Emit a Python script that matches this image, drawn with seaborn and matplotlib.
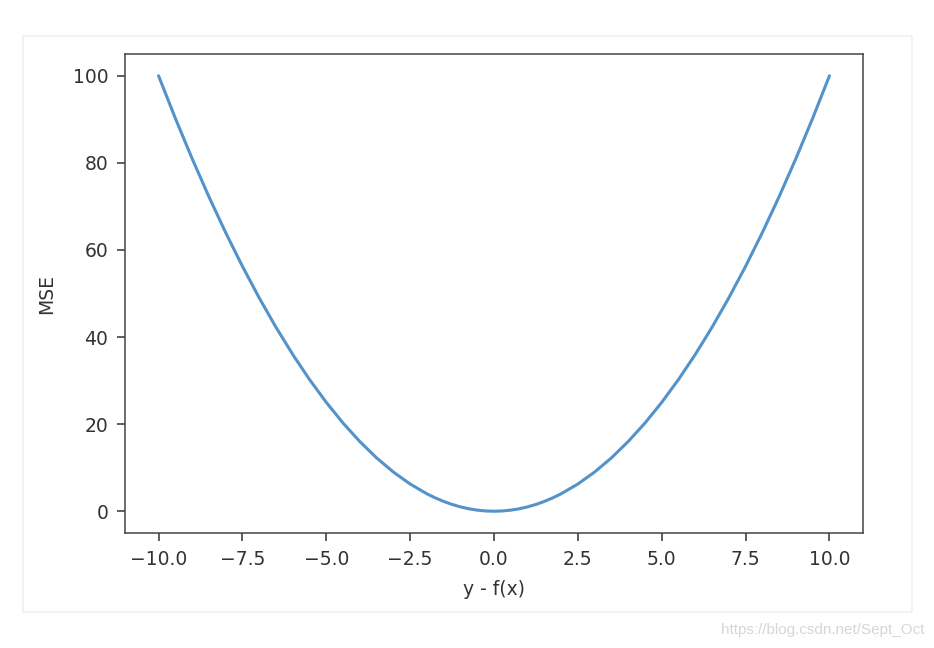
import matplotlib
matplotlib.use("Agg")
import matplotlib.pyplot as plt
import seaborn as sns
import pandas as pd
from matplotlib.patches import Rectangle

# Values (error vs squared error)
errors = [-10.0, -9.5, -9.0, -8.5, -8.0, -7.5, -7.0, -6.5, -6.0, -5.5, -5.0,
          -4.5, -4.0, -3.5, -3.0, -2.5, -2.0, -1.75, -1.5, -1.25, -1.0,
          -0.75, -0.5, -0.25, 0.0, 0.25, 0.5, 0.75, 1.0, 1.25, 1.5, 1.75, 2.0,
          2.5, 3.0, 3.5, 4.0, 4.5, 5.0,
          5.5, 6.0, 6.5, 7.0, 7.5, 8.0, 8.5, 9.0, 9.5, 10.0]
mse = [100.0, 90.25, 81.0, 72.25, 64.0, 56.25, 49.0, 42.25, 36.0, 30.25, 25.0,
       20.25, 16.0, 12.25, 9.0, 6.25, 4.0, 3.06, 2.25, 1.56, 1.0,
       0.56, 0.25, 0.06, 0.0, 0.06, 0.25, 0.56, 1.0, 1.56, 2.25, 3.06, 4.0,
       6.25, 9.0, 12.25, 16.0, 20.25, 25.0,
       30.25, 36.0, 42.25, 49.0, 56.25, 64.0, 72.25, 81.0, 90.25, 100.0]
x_ticks = [-10.0, -7.5, -5.0, -2.5, 0.0, 2.5, 5.0, 7.5, 10.0]
y_ticks = [0, 20, 40, 60, 80, 100]

sns.set_style("ticks")
plt.rcParams['font.family'] = ['DejaVu Sans']

fig = plt.figure(figsize=(9.34, 6.48), dpi=100)
fig.patch.set_facecolor("white")

# faint outer frame
fig.patches.append(Rectangle((23/934, 1-612/648), (912-23)/934, (612-36)/648,
                             transform=fig.transFigure, fill=False,
                             edgecolor="#f0f0f0", linewidth=1.2))

ax = fig.add_axes([125/934, 1-533/648, (863-125)/934, (533-54)/648])
df = pd.DataFrame({"err": errors, "mse": mse})
sns.lineplot(data=df, x="err", y="mse", ax=ax, color="#5393c9", linewidth=2.2)
for ln in ax.lines:
    ln.set_solid_joinstyle("round")
    ln.set_solid_capstyle("round")

ax.set_xlim(-11, 11)
ax.set_ylim(-5, 105)
ax.set_xticks(x_ticks)
ax.set_xticklabels([f"{v:.1f}".replace("-", "\u2212") for v in x_ticks])
ax.set_yticks(y_ticks)
ax.set_xlabel("y - f(x)", fontsize=13.5, color="#333333", labelpad=8)
ax.set_ylabel("MSE", fontsize=13.5, color="#333333", labelpad=12)
ax.tick_params(labelsize=13.5, colors="#333333", length=6, width=1.1, pad=6)
for s in ax.spines.values():
    s.set_visible(True)
    s.set_linewidth(1.1)
    s.set_color("#444444")

fig.text(925/934, 1-630/648, "https://blog.csdn.net/Sept_Oct", ha="right", va="center",
         fontsize=11, color="#d6d6d6", family=["Liberation Sans", "DejaVu Sans"])

fig.savefig("out.png", dpi=100)
